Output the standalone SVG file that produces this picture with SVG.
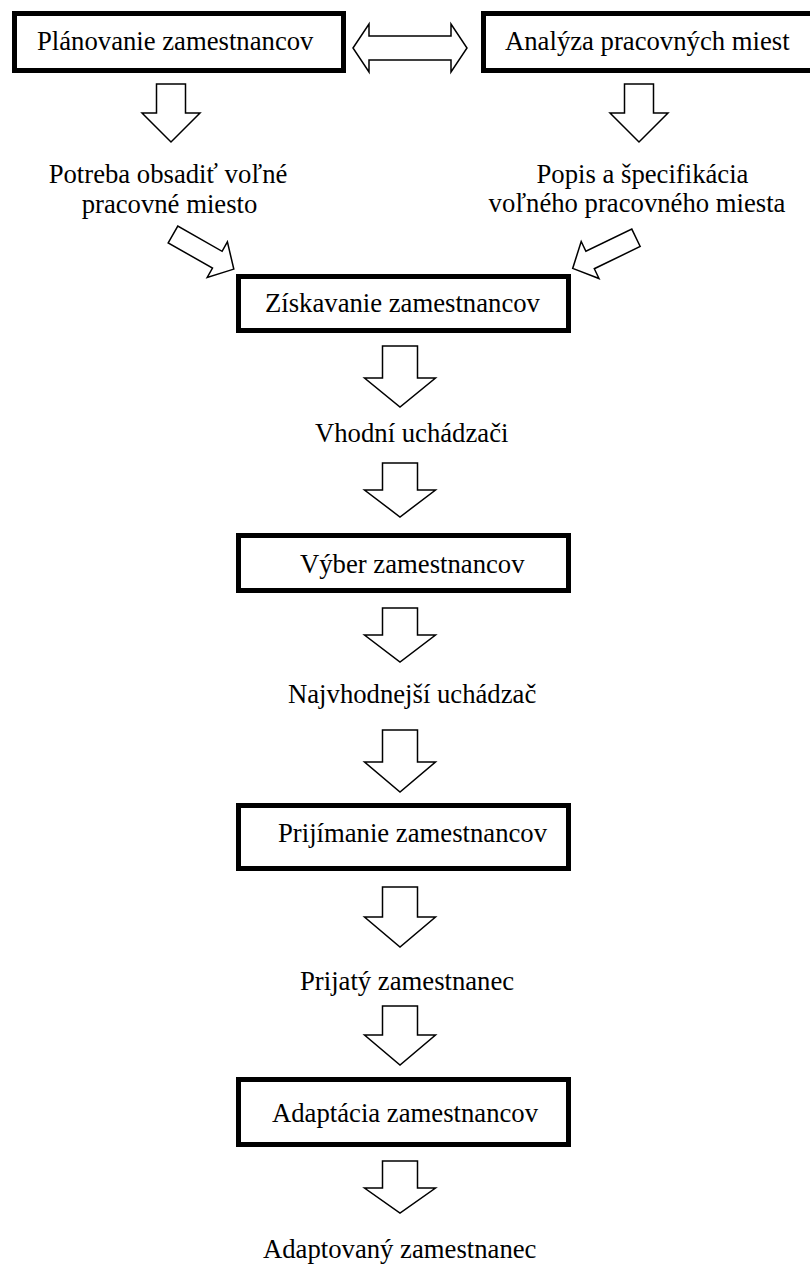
<svg xmlns="http://www.w3.org/2000/svg" width="810" height="1269" viewBox="0 0 810 1269">
  <style>
    .box { fill: #ffffff; stroke: #000000; stroke-width: 5; }
    .arrow { fill: #ffffff; stroke: #000000; stroke-width: 1.5; stroke-linejoin: miter; }
    .t { font-family: "Liberation Serif", "Times New Roman", serif; font-size: 26.7px; fill: #000000; }
  </style>
  <rect width="810" height="1269" fill="#ffffff"/>

  <!-- block arrows -->
  <g id="connectors">
    <!-- two-way arrow between the top boxes -->
    <path class="arrow" d="M353,48 L369,24 L369,36 L451,36 L451,24 L467,48 L451,72 L451,60 L369,60 L369,72 Z"/>
    <!-- top down arrows -->
    <path class="arrow" d="M156.5,84 L185.5,84 L185.5,113 L200,113 L171,142 L142,113 L156.5,113 Z"/>
    <path class="arrow" d="M624.5,84 L653.5,84 L653.5,113 L668,113 L639,142 L610,113 L624.5,113 Z"/>
    <!-- diagonal arrows into Získavanie -->
    <path class="arrow" d="M168.2,242.9 L177.8,226.1 L222.1,251.3 L227.4,241.9 L233.8,269.1 L207.2,277.5 L212.5,268.1 Z"/>
    <path class="arrow" d="M640.2,246.5 L631.8,229.1 L585.9,251.3 L581.2,241.5 L572.7,268.4 L599,278.5 L594.3,268.7 Z"/>
    <!-- central column -->
    <path class="arrow" d="M382.5,346 L417.5,346 L417.5,378 L435.5,378 L400,407 L364.5,378 L382.5,378 Z"/>
    <path class="arrow" d="M382.5,463 L417.5,463 L417.5,490 L435.5,490 L400,517 L364.5,490 L382.5,490 Z"/>
    <path class="arrow" d="M382.5,608 L417.5,608 L417.5,635 L435.5,635 L400,662 L364.5,635 L382.5,635 Z"/>
    <path class="arrow" d="M382.5,730 L417.5,730 L417.5,762 L435.5,762 L400,792 L364.5,762 L382.5,762 Z"/>
    <path class="arrow" d="M382.5,887 L417.5,887 L417.5,917 L435.5,917 L400,947 L364.5,917 L382.5,917 Z"/>
    <path class="arrow" d="M382.5,1006 L417.5,1006 L417.5,1035 L435.5,1035 L400,1065 L364.5,1035 L382.5,1035 Z"/>
    <path class="arrow" d="M382.5,1161 L417.5,1161 L417.5,1188 L435.5,1188 L400,1213 L364.5,1188 L382.5,1188 Z"/>
  </g>

  <g id="planovanie">
    <rect class="box" x="14.5" y="13.5" width="329" height="57"/>
    <text class="t" x="37" y="50">Plánovanie zamestnancov</text>
  </g>
  <g id="analyza">
    <rect class="box" x="483.5" y="13.5" width="340" height="57"/>
    <text class="t" x="505" y="50">Analýza pracovných miest</text>
  </g>
  <g id="potreba">
    <text class="t" x="168" y="183" text-anchor="middle">Potreba obsadiť voľné</text>
    <text class="t" x="169.5" y="213" text-anchor="middle">pracovné miesto</text>
  </g>
  <g id="popis">
    <text class="t" x="642.5" y="183" text-anchor="middle">Popis a špecifikácia</text>
    <text class="t" x="637" y="212" text-anchor="middle">voľného pracovného miesta</text>
  </g>
  <g id="ziskavanie">
    <rect class="box" x="238.5" y="276.5" width="330" height="54"/>
    <text class="t" x="265" y="312">Získavanie zamestnancov</text>
  </g>
  <g id="vhodni">
    <text class="t" x="315" y="442">Vhodní uchádzači</text>
  </g>
  <g id="vyber">
    <rect class="box" x="238.5" y="535.5" width="330" height="55"/>
    <text class="t" x="300" y="573">Výber zamestnancov</text>
  </g>
  <g id="najvhodnejsi">
    <text class="t" x="288" y="703">Najvhodnejší uchádzač</text>
  </g>
  <g id="prijimanie">
    <rect class="box" x="238.5" y="805.5" width="330" height="63"/>
    <text class="t" x="278" y="842">Prijímanie zamestnancov</text>
  </g>
  <g id="prijaty">
    <text class="t" x="300" y="990">Prijatý zamestnanec</text>
  </g>
  <g id="adaptacia">
    <rect class="box" x="238.5" y="1079.5" width="330" height="65"/>
    <text class="t" x="272" y="1122">Adaptácia zamestnancov</text>
  </g>
  <g id="adaptovany">
    <text class="t" x="263" y="1258">Adaptovaný zamestnanec</text>
  </g>
</svg>
